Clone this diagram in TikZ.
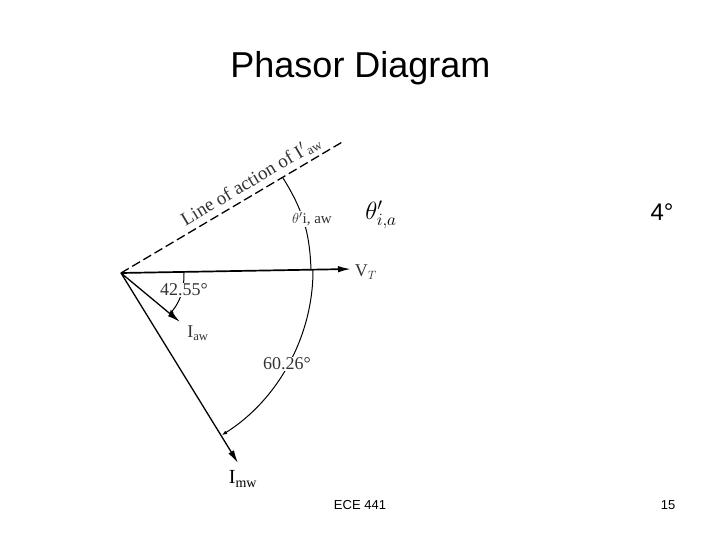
\documentclass[tikz,border=0pt]{standalone}
\usepackage{fontspec}
\setmainfont{Liberation Sans}
\newfontfamily\scanfont{Liberation Serif}
\usetikzlibrary{arrows.meta}
\begin{document}
\begin{tikzpicture}
            [x=1pt,y=-1pt,
            phasor/.style ={draw,line width=1.3pt,-{Latex[length=13pt,width=6.5pt]}},
            swing/.style ={draw,line width=1pt},
            scan/.style ={font=\scanfont\fontsize{18}{18}\selectfont,text=black!80,inner sep=1pt},
            slide/.style ={font=\fontsize{13}{13}\selectfont,inner sep=0pt}]
            \useasboundingbox (0,0) rectangle (720,540);
            \node[font=\fontsize{36}{36}\selectfont,inner sep=0pt] (title) at (360.5,68){Phasor Diagram};
            \coordinate (o) at (121,273);
            \coordinate (dashend) at (344,141);
            \coordinate (vend) at (351,269);
            \coordinate (iawend) at (180,322);
            \coordinate (imwend) at (238,463);
            \coordinate (up1) at (283,178);
            \coordinate (up2) at (311,270);
            \coordinate (lo1) at (313,270);
            \coordinate (lo2) at (222,435);
            \coordinate (sm1) at (184,273);
            \coordinate (sm2) at (169,315);
            \draw[line width=1.3pt,dash pattern=on 9pt off 4pt] (o) to (dashend);
            \draw[phasor,line width=1.7pt] (o) to (vend);
            \draw[phasor] (o) to (iawend);
            \draw[phasor] (o) to (imwend);
            \draw[swing] (up1) to [bend left =15](up2);
            \draw[swing,-{Latex[length=5pt,width=4pt]}] (lo1) to [bend left =29,looseness=0.9](lo2);
            \draw[swing,-{Latex[length=5pt,width=4pt]}] (sm1) to [bend left =20](sm2);
            \node[scan,rotate=30.7,font=\scanfont\fontsize{19}{19}\selectfont] (line)at (251,181){Line of action of I$'$\textsubscript{aw}};
            \node[scan,fill=white,font=\scanfont\fontsize{15}{15}\selectfont] (thetaaw)at (312,219){$\theta'$i, aw};
            \node[font=\fontsize{26}{26}\selectfont,inner sep=0pt] (theta)at (381,215){$\theta'_{i,a}$};
            \node[scan] (vt)at (366,272){V$_T$};
            \node[scan,fill=white,inner sep=0.5pt] (deg42)at (184,290){42.55°};
            \node[scan] (iaw)at (198,333){I\textsubscript{aw}};
            \node[scan,fill=white,inner sep=0.5pt] (deg60)at (287,364){60.26°};
            \node[scan,text=black,font=\scanfont\fontsize{20}{20}\selectfont] (imw)at (243,479){I\textsubscript{mw}};
            \node[font=\fontsize{24}{24}\selectfont,inner sep=0pt] (deg4)at (662,212){4°};
            \node[slide] (footer)at (360,505){ECE 441};
            \node[slide] (page)at (668,505){15};
        \end{tikzpicture}
\end{document}
